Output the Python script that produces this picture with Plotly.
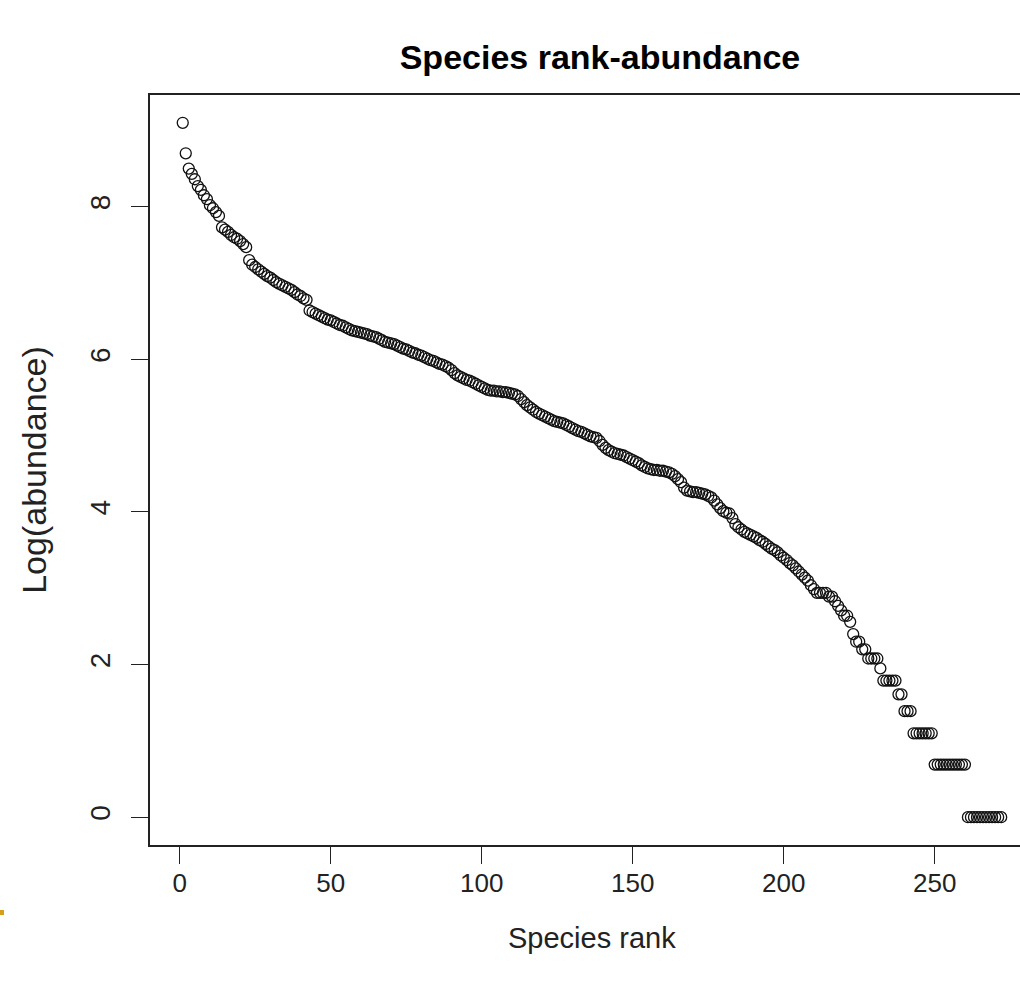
import plotly.graph_objects as go

# Species rank (1..272) and log(abundance)
rank = list(range(1, 273))

log_abund_head = [
    9.10, 8.70, 8.50, 8.43, 8.36, 8.27, 8.22, 8.15, 8.10, 8.02,
    7.98, 7.93, 7.88, 7.73, 7.70, 7.67, 7.63, 7.60, 7.58, 7.55,
    7.51, 7.47, 7.30, 7.24, 7.21, 7.18, 7.15, 7.12, 7.09, 7.07,
    7.04, 7.01, 6.99, 6.97, 6.95, 6.93, 6.91, 6.88, 6.85, 6.83,
    6.80, 6.78, 6.64, 6.62, 6.60, 6.58, 6.56, 6.54, 6.52, 6.51,
]
log_abund_mid1 = [
    6.49, 6.47, 6.45, 6.44, 6.42, 6.40, 6.38, 6.37, 6.36, 6.35,
    6.34, 6.33, 6.31, 6.30, 6.29, 6.27, 6.25, 6.23, 6.22, 6.21,
    6.20, 6.18, 6.16, 6.14, 6.13, 6.11, 6.09, 6.08, 6.06, 6.05,
    6.03, 6.01, 5.99, 5.98, 5.96, 5.94, 5.93, 5.91, 5.89, 5.86,
    5.82, 5.79, 5.77, 5.75, 5.73, 5.72, 5.70, 5.68, 5.66, 5.64,
]
log_abund_mid2 = [
    5.62, 5.60, 5.59, 5.59, 5.58, 5.58, 5.57, 5.57, 5.56, 5.55,
    5.54, 5.52, 5.48, 5.44, 5.40, 5.37, 5.34, 5.31, 5.29, 5.27,
    5.25, 5.23, 5.21, 5.19, 5.18, 5.17, 5.16, 5.14, 5.12, 5.10,
    5.08, 5.06, 5.05, 5.03, 5.01, 4.99, 4.98, 4.97, 4.93, 4.88,
    4.84, 4.81, 4.79, 4.77, 4.76, 4.75, 4.74, 4.72, 4.70, 4.68,
]
log_abund_mid3 = [
    4.66, 4.64, 4.61, 4.59, 4.57, 4.56, 4.55, 4.55, 4.54, 4.54,
    4.53, 4.52, 4.50, 4.47, 4.43, 4.39, 4.32, 4.28, 4.27, 4.26,
    4.26, 4.25, 4.24, 4.23, 4.21, 4.19, 4.15, 4.10, 4.05, 4.01,
    3.99, 3.98, 3.92, 3.84, 3.80, 3.77, 3.74, 3.72, 3.70, 3.68,
    3.66, 3.63, 3.61, 3.58, 3.55, 3.52, 3.50, 3.47, 3.43, 3.40,
]
log_abund_tail = [
    3.37, 3.33, 3.30, 3.26, 3.22, 3.18, 3.14, 3.10, 3.04, 2.99,
    2.94, 2.94, 2.94, 2.94, 2.89, 2.89, 2.83, 2.77, 2.71, 2.64,
    2.64, 2.56, 2.40, 2.30, 2.30, 2.20, 2.20, 2.08, 2.08, 2.08,
    2.08, 1.95, 1.79, 1.79, 1.79, 1.79, 1.79, 1.61, 1.61, 1.39,
    1.39, 1.39, 1.10, 1.10, 1.10, 1.10, 1.10, 1.10, 1.10, 0.69,
    0.69, 0.69, 0.69, 0.69, 0.69, 0.69, 0.69, 0.69, 0.69, 0.69,
    0.00, 0.00, 0.00, 0.00, 0.00, 0.00, 0.00, 0.00, 0.00, 0.00,
    0.00, 0.00,
]
log_abund = log_abund_head + log_abund_mid1 + log_abund_mid2 + log_abund_mid3 + log_abund_tail

x_ticks = [0, 50, 100, 150, 200, 250]
y_ticks = [0, 2, 4, 6, 8]

FONT = "Liberation Sans, Arial, sans-serif"
TXT = "#222222"

fig = go.Figure()
fig.add_trace(go.Scatter(
    x=rank, y=log_abund, mode="markers",
    marker=dict(symbol="circle-open", size=11, color="#111111",
                line=dict(width=1.3, color="#111111")),
    hoverinfo="x+y", showlegend=False,
))

fig.update_layout(
    width=1020, height=983,
    margin=dict(l=150, r=0, t=95, b=138, pad=0),
    paper_bgcolor="white", plot_bgcolor="white",
    font=dict(family=FONT, color=TXT, size=28),
    title=dict(text="Species rank-abundance", x=(600 - 150) / 870, xref="paper",
               y=1 - 57 / 983, yref="container", xanchor="center", yanchor="middle",
               font=dict(family=FONT, size=34, weight=700, color="black")),
    xaxis=dict(range=[-9.84, 278.24], tickvals=x_ticks, ticks="outside",
               ticklen=17, tickwidth=1.3, tickcolor="#222222",
               showline=True, linecolor="#222222", linewidth=1.6, mirror=True,
               showgrid=False, zeroline=False, ticklabelstandoff=-3,
               tickfont=dict(family=FONT, size=26, color=TXT)),
    yaxis=dict(range=[-0.364, 9.464], tickvals=y_ticks, ticks="outside",
               ticklen=17, tickwidth=1.3, tickcolor="#222222",
               showline=True, linecolor="#222222", linewidth=1.6, mirror=False,
               showgrid=False, zeroline=False, tickangle=-90,
               ticklabelstandoff=10,
               tickfont=dict(family=FONT, size=28, color=TXT),
               title=dict(text="Log(abundance)", standoff=28,
                          font=dict(family=FONT, size=34, color=TXT))),
)

# x-axis title, centred on the (partly cropped) plot region as in the reference
fig.add_annotation(text="Species rank", xref="paper", yref="paper",
                   x=(592 - 150) / 870, y=(845 - 938) / 750,
                   xanchor="center", yanchor="middle", showarrow=False,
                   font=dict(family=FONT, size=29, color=TXT))

# small gold mark at the left edge of the image
fig.add_shape(type="rect", xref="paper", yref="paper",
              x0=(0 - 150) / 870, x1=(4 - 150) / 870,
              y0=(845 - 915) / 750, y1=(845 - 910) / 750,
              fillcolor="#d4a017", line=dict(width=0), layer="above")

fig.write_html("out.html")
